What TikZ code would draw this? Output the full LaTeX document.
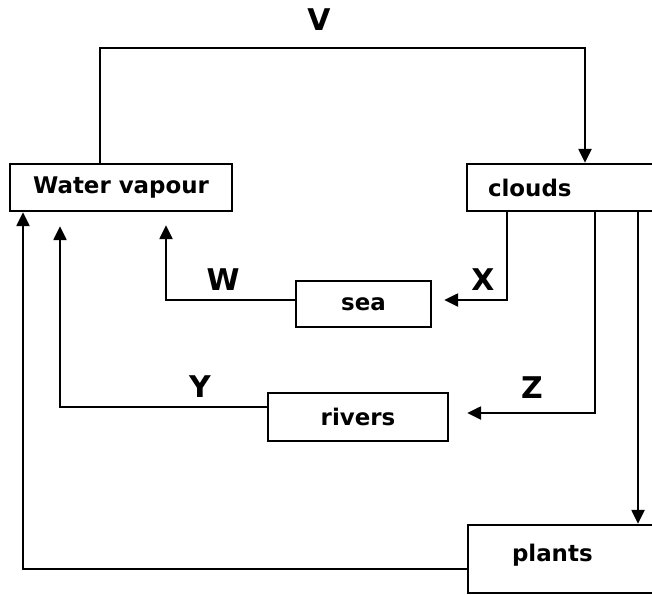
\documentclass[tikz,border=0pt]{standalone}
\usepackage{fontspec}
\setmainfont{DejaVu Sans}
\usetikzlibrary{arrows.meta}
\begin{document}
\begin{tikzpicture}[x=10bp,y=10bp,line width=2.4bp,
  box/.style={draw,rectangle,inner sep=0pt,font=\fontsize{23}{27}\selectfont\bfseries},
  lbl/.style={font=\fontsize{30}{34}\selectfont\bfseries},
  flow/.style={-{Triangle[length=14bp,width=13bp]}}]
\clip (0,0) rectangle (65.2,-59.5);
% boxes
\node [box,minimum width=222bp,minimum height=47bp] (vapour) at (12.1,-18.75) {Water vapour};
\node [box,text width=151bp,inner xsep=21bp,minimum height=47bp,align=left] (clouds) at (56.35,-18.75) {clouds};
\node [box,minimum width=135bp,minimum height=46bp] (sea) at (36.35,-30.4) {sea};
\node [box,minimum width=180bp,minimum height=48bp] (rivers) at (35.8,-41.7) {rivers};
\node [box,text width=104bp,inner xsep=44bp,text height=36bp,text depth=32bp,align=left] (plants) at (56.4,-55.9) {plants};
% V
\coordinate (v1) at (10.0,-4.8);
\coordinate (v2) at (58.5,-4.8);
\draw [flow] (v1 |- vapour.north) -- (v1) -- (v2) -- (v2 |- clouds.north);
\node [lbl] (vlbl) at (31.9,-2.0) {V};
% W
\coordinate (w1) at (16.6,-30.0);
\draw [flow,shorten >=13bp] (sea.west |- w1) -- (w1) -- (w1 |- vapour.south);
\node [lbl] (wlbl) at (22.3,-28.0) {W};
% X
\coordinate (x1) at (50.7,-30.0);
\draw [flow,shorten >=12bp] (x1 |- clouds.south) -- (x1) -- (sea.east |- x1);
\node [lbl] (xlbl) at (48.3,-28.0) {X};
% Y
\coordinate (y1) at (6.0,-40.7);
\draw [flow,shorten >=14bp] (rivers.west |- y1) -- (y1) -- (y1 |- vapour.south);
\node [lbl] (ylbl) at (20.0,-38.7) {Y};
% Z
\coordinate (z1) at (59.5,-41.3);
\draw [flow,shorten >=18bp] (z1 |- clouds.south) -- (z1) -- (rivers.east |- z1);
\node [lbl] (zlbl) at (53.2,-38.8) {Z};
% plants
\coordinate (p1) at (63.8,-30.0);
\draw [flow] (p1 |- clouds.south) -- (p1 |- plants.north);
\coordinate (q1) at (2.3,-56.9);
\draw [flow] (plants.west |- q1) -- (q1) -- (q1 |- vapour.south);
\end{tikzpicture}
\end{document}
